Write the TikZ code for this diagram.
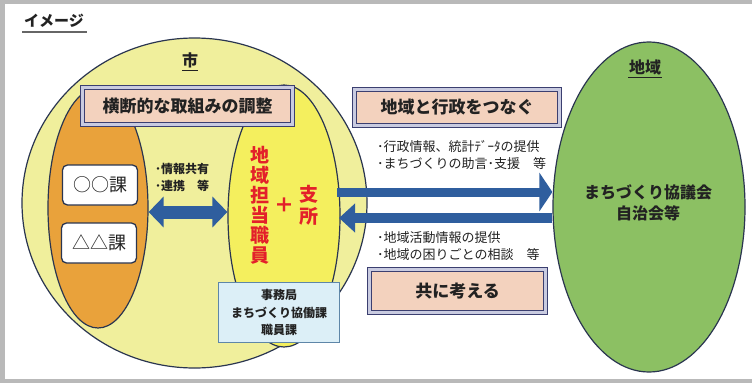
\documentclass[tikz,border=0pt]{standalone}
\usepackage{fontspec}
\setmainfont{Noto Sans CJK JP}
\usetikzlibrary{shapes.geometric,arrows.meta}
\definecolor{cityY}{HTML}{F0EF9C}
\definecolor{innerY}{HTML}{F4EF5E}
\definecolor{deptO}{HTML}{E9A23B}
\definecolor{regG}{HTML}{8CC063}
\definecolor{peach}{HTML}{F3D2BE}
\definecolor{navy}{HTML}{3B3F70}
\definecolor{bevel}{HTML}{C9CBE0}
\definecolor{arrowblue}{HTML}{2F5E9E}
\definecolor{lblue}{HTML}{DCEFF7}
\definecolor{lblueedge}{HTML}{5E86A8}
\definecolor{edge}{HTML}{2A3550}
\definecolor{ink}{HTML}{222222}
\definecolor{redtxt}{HTML}{E3202A}
\newcommand\myfs[2]{\fontsize{#1}{#2}\selectfont}
\tikzset{
  blob/.style={ellipse, draw=edge, line width=1.2pt, inner sep=0pt},
  bevelbox/.style={draw=navy, line width=1pt, double=bevel, double distance=3pt,
    fill=peach, inner sep=0pt, text=ink, font=\myfs{17}{17}\bfseries},
  kabox/.style={draw=edge, line width=1.3pt, fill=white, rounded corners=5pt,
    minimum width=75pt, minimum height=40pt, inner sep=0pt, font=\myfs{18}{18}, text=ink},
  listtxt/.style={anchor=west, inner sep=0pt, text=ink, align=left},
  heading/.style={inner sep=0pt, text=ink, font=\myfs{16}{16}\bfseries},
  redtext/.style={inner sep=0pt, text=redtxt, align=center},
  fatarrow/.style={draw=arrowblue}
}
\begin{document}
\begin{tikzpicture}[x=1pt,y=-1pt]
\useasboundingbox (0,0) rectangle (752,383);
\fill[white] (0,0) rectangle (752,383);
\fill[gray!55] (0,0) rectangle (752,4);
\fill[gray!55] (0,0) rectangle (5,383);
\fill[gray!55] (0,379) rectangle (752,383);

% title
\node[heading, font=\myfs{15}{15}\bfseries] (title) at (54,21) {イメージ};
\draw[gray!80!black, line width=1.5pt] (22,32) -- (87,32);

% city circle
\node[blob, fill=cityY, minimum width=345pt, minimum height=330pt] (city) at (194.5,203) {};
\node[heading] (citylbl) at (190,60) {市};
\draw[ink, line width=1pt] (182,70) -- (198,70);

% department ellipse
\node[blob, fill=deptO, minimum width=100pt, minimum height=240pt] (dept) at (98,208) {};
% staff ellipse
\node[blob, fill=innerY, minimum width=112pt, minimum height=262pt] (staff) at (284,216) {};

% top coordination box
\node[bevelbox, minimum width=210pt, minimum height=37pt] (coord) at (187.5,106) {横断的な取組みの調整};

% section boxes
\node[kabox] (ka1) at (100,185) {○○課};
\node[kabox] (ka2) at (99,243) {△△課};

% info sharing
\node[listtxt, font=\myfs{12}{17}\bfseries] (share) at (155,177.5) {･情報共有\\･連携　等};

% staff text
\node[redtext, font=\myfs{19}{20}\bfseries] (staffA) at (260,205) {地\\域\\担\\当\\職\\員};
\node[redtext, font=\myfs{20}{20}\bfseries] (plus) at (284,205) {＋};
\node[redtext, font=\myfs{19}{22}\bfseries] (branch) at (309,205) {支\\所};

% secretariat box
\node[draw=lblueedge, line width=1.3pt, fill=lblue, minimum width=121pt, minimum height=60pt,
  inner sep=0pt, text=ink, font=\myfs{12}{17.5}\bfseries, align=center] (office) at (279,312.5)
  {事務局\\まちづくり協働課\\職員課};

% region ellipse
\node[blob, fill=regG, minimum width=192pt, minimum height=330pt] (region) at (649,207) {};
\node[heading] (reglbl) at (645,67) {地域};
\draw[ink, line width=1pt] (628,77) -- (662,77);
\node[inner sep=0pt, text=ink, font=\myfs{16}{21}\bfseries, align=center] (council) at (648,202.5)
  {まちづくり協議会\\自治会等};

% right boxes
\node[bevelbox, minimum width=205pt, minimum height=36pt] (connect) at (457,107.5) {地域と行政をつなぐ};
\node[bevelbox, minimum width=176pt, minimum height=43pt] (together) at (457.5,291) {共に考える};

% lists
\node[listtxt, font=\myfs{13}{16.5}] (list1) at (377,155)
  {･行政情報、統計ﾃﾞｰﾀの提供\\･まちづくりの助言･支援　等};
\node[listtxt, font=\myfs{13}{17}] (list2) at (377,246.5)
  {･地域活動情報の提供\\･地域の困りごとの相談　等};

% arrows
\draw[fatarrow, line width=13pt, {Triangle[length=15pt,width=30pt]}-{Triangle[length=15pt,width=30pt]}]
  (dept.east |- 0,212) -- (staff.west |- 0,212);
\coordinate (upS) at (337,192);
\draw[fatarrow, line width=9pt, -{Triangle[length=13pt,width=38pt]}] (upS) -- (upS -| region.west);
\coordinate (loE) at (339,218);
\draw[fatarrow, line width=10pt, -{Triangle[length=16pt,width=28pt]}] (loE -| region.west) -- (loE);
\end{tikzpicture}
\end{document}
